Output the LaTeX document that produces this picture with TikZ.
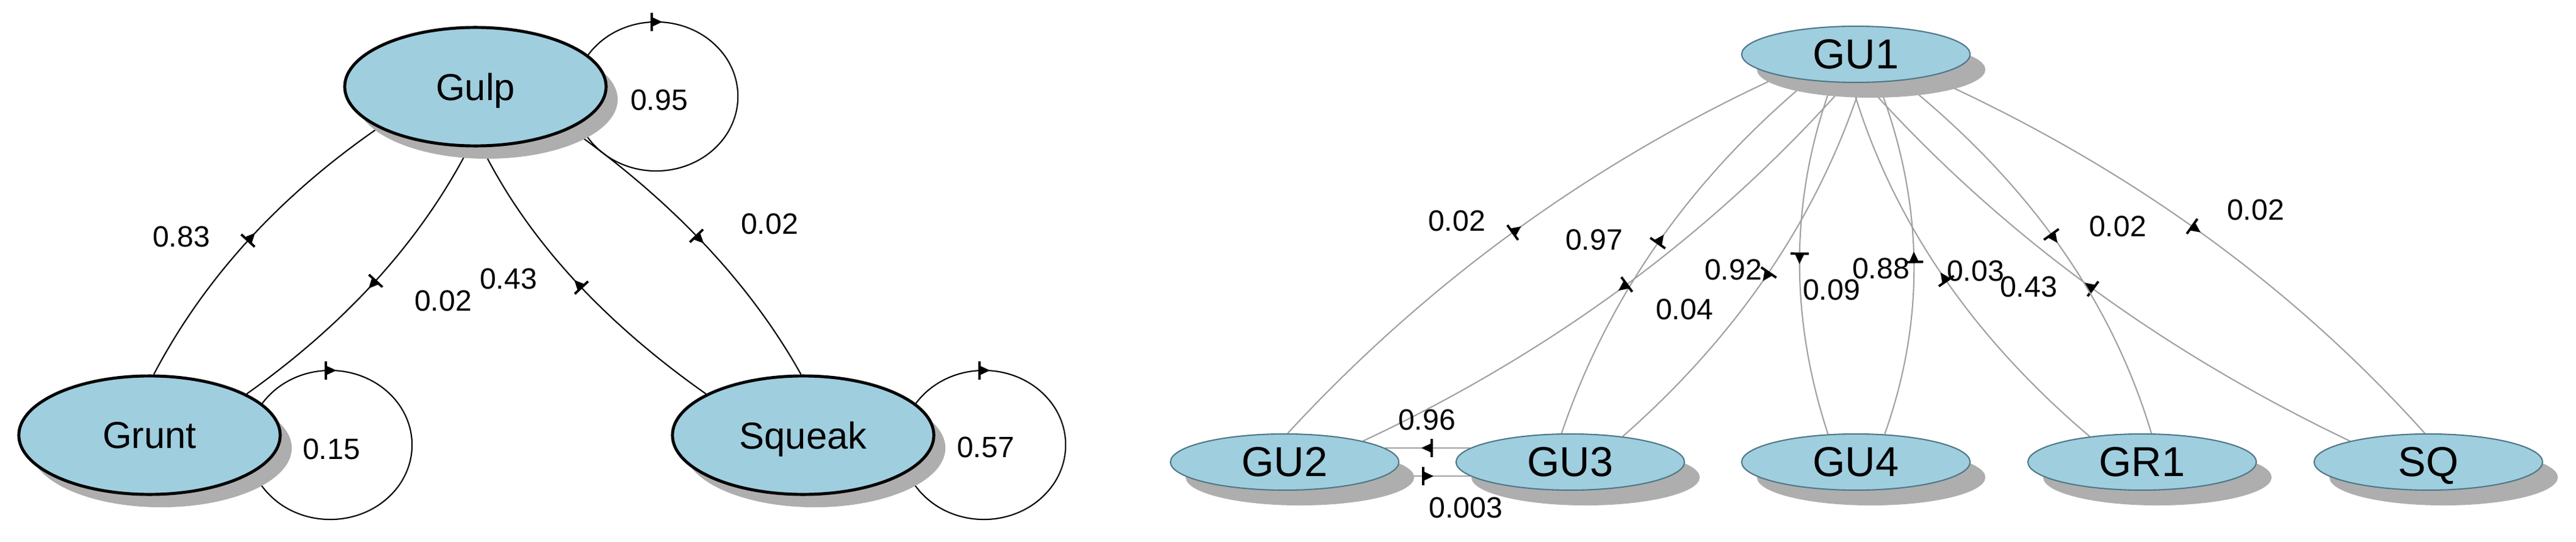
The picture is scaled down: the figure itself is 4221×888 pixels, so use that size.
\documentclass[tikz,border=0pt]{standalone}
\usepackage{fontspec}
\setmainfont{Liberation Sans}
\usetikzlibrary{shapes.geometric,shadows,decorations.markings}
\definecolor{nodeblue}{RGB}{159,206,223}
\definecolor{nodeborder}{RGB}{80,120,135}
\definecolor{shadowgray}{RGB}{174,174,174}
\definecolor{edgegray}{RGB}{160,160,160}
\pgfdeclarelayer{bg}
\pgfsetlayers{bg,main}
\newcommand\arrowglyph{%
  \fill[black] (0.10cm,0) -- (-0.07cm,0.08cm) -- (-0.07cm,-0.08cm) -- cycle;
  \draw[black,line width=1.1pt] (-0.07cm,0.15cm) -- (-0.07cm,-0.15cm);}
\tikzset{
  midarrow/.style={postaction={decorate,decoration={markings,mark=at position #1 with {\arrowglyph}}}},
  bignode/.style={ellipse, fill=nodeblue, draw=black, line width=1.4pt,
    minimum width=4.28cm, minimum height=1.94cm, inner sep=0pt, text depth=0pt,
    font=\fontsize{17.5}{20}\selectfont,
    drop shadow={shadow xshift=0.19cm, shadow yshift=-0.21cm, fill=shadowgray, opacity=1}},
  smallnode/.style={ellipse, fill=nodeblue, draw=nodeborder, line width=0.6pt,
    minimum width=3.74cm, minimum height=0.92cm, inner sep=0pt, text depth=0pt,
    font=\fontsize{19.5}{22}\selectfont,
    drop shadow={shadow xshift=0.25cm, shadow yshift=-0.25cm, fill=shadowgray, opacity=1}},
  lbl/.style={font=\fontsize{13.7}{15}\selectfont, inner sep=0pt},
  bedge/.style={draw=black, line width=0.6pt, midarrow=0.5},
  gedge/.style={draw=edgegray, line width=0.6pt, midarrow=0.5},
  loopedge/.style={draw=black, line width=0.6pt, midarrow=0.25}
}
\begin{document}
\begin{tikzpicture}[x=0.01cm, y=-0.01cm]
\useasboundingbox (0,0) rectangle (4221,888);
% left graph nodes
\node[bignode] (gulp) at (779,142) {Gulp};
\node[bignode] (grunt) at (245,713) {Grunt};
\node[bignode] (squeak) at (1316,713) {Squeak};
% right graph nodes
\node[smallnode] (gu1) at (3041,89) {GU1};
\node[smallnode] (gu2) at (2105,757) {GU2};
\node[smallnode] (gu3) at (2573,757) {GU3};
\node[smallnode] (gu4) at (3041,757) {GU4};
\node[smallnode] (gr1) at (3510,757) {GR1};
\node[smallnode] (sq) at (3979,757) {SQ};
\begin{pgfonlayer}{bg}
% left edges
\draw[bedge] (grunt.86) .. controls (334,457) and (457,322) .. (gulp.203);
\draw[bedge] (gulp.264) .. controls (690,394) and (568,529) .. (grunt.23);
\draw[bedge] (squeak.157) .. controls (986,525) and (863,390) .. (gulp.276);
\draw[bedge] (gulp.336) .. controls (1102,330) and (1229,464) .. (squeak.92);
% loops
\draw[loopedge] ([shift={(162,16)}]gulp.center) arc[start angle=180, end angle=-180, x radius=1.34cm, y radius=1.22cm];
\draw[loopedge] ([shift={(162,16)}]grunt.center) arc[start angle=180, end angle=-180, x radius=1.34cm, y radius=1.22cm];
\draw[loopedge] ([shift={(162,16)}]squeak.center) arc[start angle=180, end angle=-180, x radius=1.34cm, y radius=1.22cm];
% right edges
\draw[gedge] (gu2.84) .. controls (2340,461) and (2609,266) .. (gu1.196);
\draw[gedge] (gu3.107) .. controls (2634,488) and (2768,295) .. (gu1.209);
\draw[gedge] (gu1.252) .. controls (2810,380) and (2546,576) .. (gu2.15);
\draw[gedge] (gu1.281) .. controls (2979,355) and (2849,548) .. (gu3.26);
\draw[gedge] (gu1.230) .. controls (2933,323) and (2931,515) .. (gu4.135);
\draw[gedge] (gu4.44) .. controls (3156,520) and (3152,328) .. (gu1.308);
\draw[gedge] (gr1.154) .. controls (3227,548) and (3097,355) .. (gu1.261);
\draw[gedge] (sq.165) .. controls (3537,573) and (3272,378) .. (gu1.288);
\draw[gedge] (gu1.330) .. controls (3324,299) and (3460,492) .. (gr1.72);
\draw[gedge] (gu1.343) .. controls (3484,271) and (3754,466) .. (sq.97);
\draw[gedge] (gu3.172) -- (gu2.8);
\draw[gedge] (gu2.352) -- (gu3.188);
\end{pgfonlayer}
% left labels
\node[lbl] (l1) at (297,388) {0.83};
\node[lbl] (l2) at (726,493) {0.02};
\node[lbl] (l3) at (833,457) {0.43};
\node[lbl] (l4) at (1261,367) {0.02};
\node[lbl] (l5) at (1080,164) {0.95};
\node[lbl] (l6) at (543,736) {0.15};
\node[lbl] (l7) at (1615,733) {0.57};
% right labels
\node[lbl] (r1) at (2387,362) {0.02};
\node[lbl] (r2) at (2612,393) {0.97};
\node[lbl] (r3) at (2760,507) {0.04};
\node[lbl] (r4) at (2840,442) {0.92};
\node[lbl] (r5) at (3001,475) {0.09};
\node[lbl] (r6) at (3082,440) {0.88};
\node[lbl] (r7) at (3237,444) {0.03};
\node[lbl] (r8) at (3324,470) {0.43};
\node[lbl] (r9) at (3470,371) {0.02};
\node[lbl] (r10) at (3696,344) {0.02};
\node[lbl] (r11) at (2338,688) {0.96};
\node[lbl] (r12) at (2402,832) {0.003};
\end{tikzpicture}
\end{document}
